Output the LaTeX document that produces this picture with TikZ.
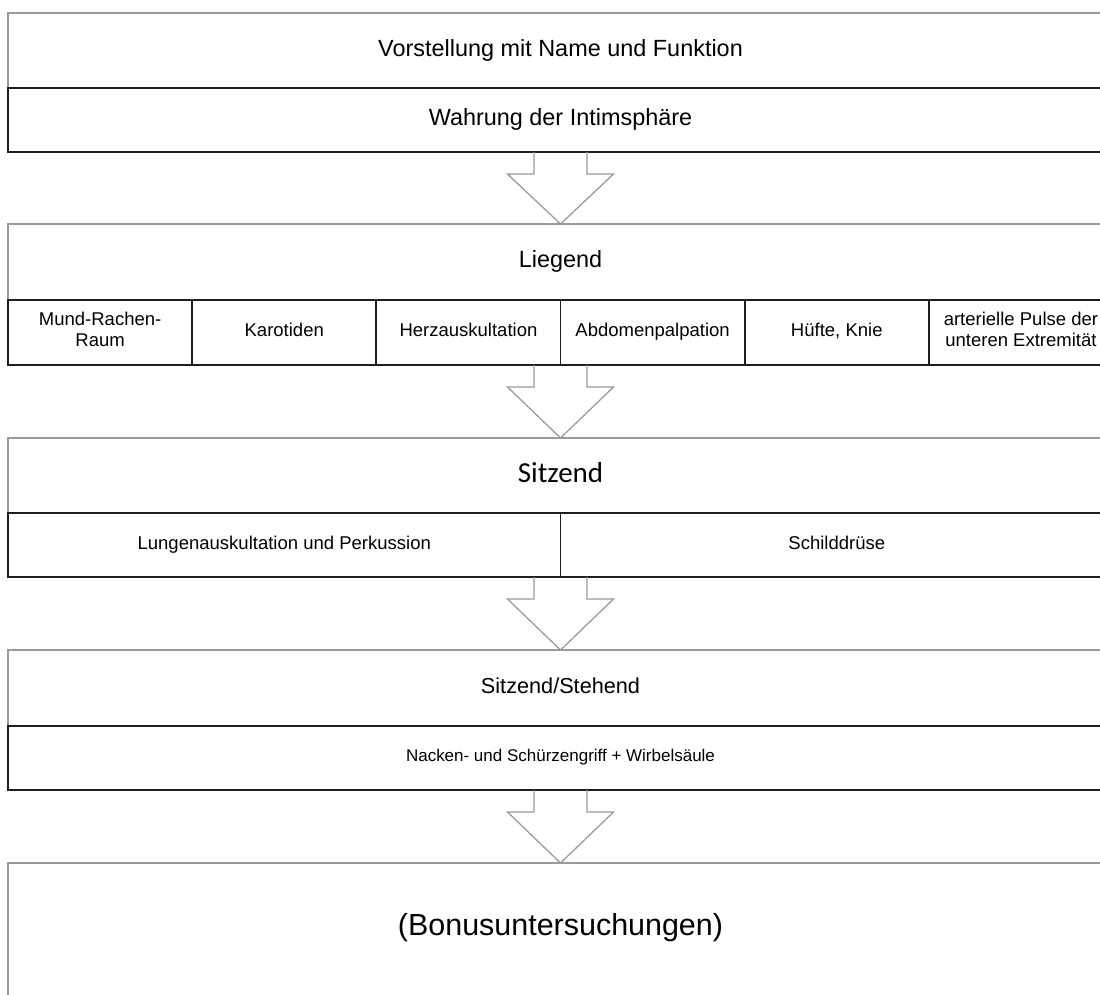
\documentclass[tikz,border=0pt]{standalone}
\usepackage{fontspec}
\setmainfont{Liberation Sans}
\newfontfamily\sitzfont{Carlito}
\usetikzlibrary{calc}
\definecolor{framegray}{HTML}{9A9A9A}
\definecolor{boxblack}{HTML}{1E1E1E}
\tikzset{
  stagebox/.style={draw=framegray,line width=1.1pt,anchor=north,minimum width=33.150cm,inner sep=0pt,outer sep=0pt,font=\fontsize{20}{24}\selectfont,execute at begin node=\strut},
  topicbox/.style={draw=boxblack,line width=1.5pt,anchor=north,minimum width=33.150cm,minimum height=1.920cm,inner sep=0pt,outer sep=0pt,font=\fontsize{20}{24}\selectfont,execute at begin node=\strut},
  cellbox/.style={draw=boxblack,line width=1.5pt,minimum width=5.525cm,minimum height=1.950cm,inner sep=0pt,outer sep=0pt,align=center,font=\fontsize{15.8}{18}\selectfont,execute at begin node=\strut},
  flowarrow/.style={draw=framegray,line width=1.1pt,line join=miter}
}
\begin{document}
\begin{tikzpicture}
\useasboundingbox (0.000,0.000) rectangle (33.000,-29.820);
\clip (0.000,0.000) rectangle (33.000,-29.820);
% Begruessung
\node[stagebox,minimum height=2.250cm] (intro) at (16.815,-0.390) {Vorstellung mit Name und Funktion};
\node[topicbox] (privacy) at (16.815,-2.640) {Wahrung der Intimsphäre};
% Liegend
\node[stagebox,minimum height=2.280cm] (lying) at (16.815,-6.720) {Liegend};
\node[cellbox] (mouth) at (3.003,-9.975) {Mund-Rachen-\\Raum\strut};
\node[cellbox] (carotid) at (8.528,-9.975) {Karotiden};
\node[cellbox] (heart) at (14.053,-9.975) {Herzauskultation};
\node[cellbox] (abdomen) at (19.578,-9.975) {Abdomenpalpation};
\node[cellbox] (hip) at (25.103,-9.975) {Hüfte, Knie};
\node[cellbox] (pulse) at (30.628,-9.975) {arterielle Pulse der\\unteren Extremität\strut};
% Sitzend
\node[stagebox,minimum height=2.250cm,font=\sitzfont\fontsize{24.75}{28}\selectfont] (sitting) at (16.815,-13.140) {Sitzend};
\node[cellbox,minimum width=16.575cm,minimum height=1.920cm] (lungs) at (8.528,-16.350) {Lungenauskultation und Perkussion};
\node[cellbox,minimum width=16.575cm,minimum height=1.920cm] (thyroid) at (25.103,-16.350) {Schilddrüse};
% Sitzend/Stehend
\node[stagebox,minimum height=2.280cm,font=\fontsize{18.5}{22}\selectfont] (standing) at (16.815,-19.500) {Sitzend/Stehend};
\node[topicbox,font=\fontsize{14.5}{17}\selectfont] (spine) at (16.815,-21.780) {Nacken- und Schürzengriff + Wirbelsäule};
% Bonus
\node[stagebox,minimum height=4.800cm] (bonus) at (16.815,-25.890) {};
\node[font=\fontsize{26}{30}\selectfont] (bonustext) at (16.815,-27.840) {\strut(Bonusuntersuchungen)};
% Pfeile
\draw[flowarrow] ($(privacy.south)+(-0.795,0)$) -- ++(0,-0.660) -- ++(-0.795,0) -- (lying.north) -- ($(privacy.south)+(1.590,-0.660)$) -- ++(-0.795,0) -- ++(0,0.660);
\draw[flowarrow] ($(heart.south east)+(-0.795,0)$) -- ++(0,-0.660) -- ++(-0.795,0) -- (sitting.north) -- ($(heart.south east)+(1.590,-0.660)$) -- ++(-0.795,0) -- ++(0,0.660);
\draw[flowarrow] ($(lungs.south east)+(-0.795,0)$) -- ++(0,-0.660) -- ++(-0.795,0) -- (standing.north) -- ($(lungs.south east)+(1.590,-0.660)$) -- ++(-0.795,0) -- ++(0,0.660);
\draw[flowarrow] ($(spine.south)+(-0.795,0)$) -- ++(0,-0.660) -- ++(-0.795,0) -- (bonus.north) -- ($(spine.south)+(1.590,-0.660)$) -- ++(-0.795,0) -- ++(0,0.660);
\end{tikzpicture}
\end{document}
